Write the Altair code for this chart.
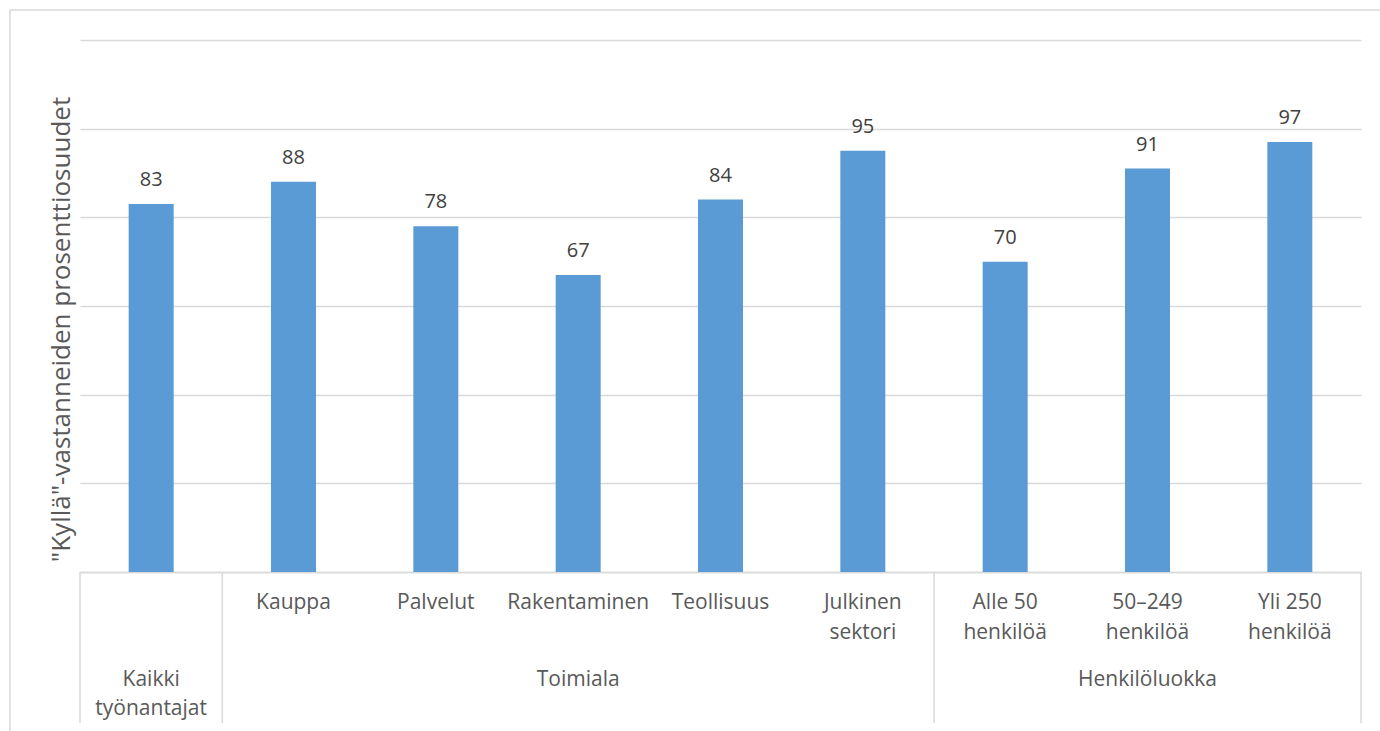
import altair as alt
import pandas as pd

# Categories (in plot order) and the share of "Kyllä" answers, %
categories = ["Kaikki työnantajat", "Kauppa", "Palvelut", "Rakentaminen", "Teollisuus",
              "Julkinen sektori", "Alle 50 henkilöä", "50–249 henkilöä", "Yli 250 henkilöä"]
values = [83, 88, 78, 67, 84, 95, 70, 91, 97]

# Two-row category labels under the axis
label_line1 = ["", "Kauppa", "Palvelut", "Rakentaminen", "Teollisuus", "Julkinen",
               "Alle 50", "50–249", "Yli 250"]
label_line2 = ["", "", "", "", "", "sektori", "henkilöä", "henkilöä", "henkilöä"]

# Group labels, centred on the middle category of each group
group_line1 = ["Kaikki", "Toimiala", "Henkilöluokka"]
group_line2 = ["työnantajat", "", ""]
group_center = [0, 3, 7]

# Group boundaries in category units
separators = [-0.5, 0.5, 5.5, 8.5]

FONT = "Open Sans"
GRID = "#d9d9d9"
W, H = 1281, 532

bars_df = pd.DataFrame({"idx": list(range(len(categories))), "kategoria": categories,
                        "arvo": values})
lab1_df = pd.DataFrame({"idx": list(range(len(categories))), "t": label_line1})
lab2_df = pd.DataFrame({"idx": list(range(len(categories))), "t": label_line2})
grp1_df = pd.DataFrame({"idx": group_center, "t": group_line1})
grp2_df = pd.DataFrame({"idx": group_center, "t": group_line2})
sep_df = pd.DataFrame({"idx": separators})

x_scale = alt.Scale(domain=[-0.5, 8.5], nice=False, zero=False, padding=0)
y_scale = alt.Scale(domain=[0, 120], nice=False)

x_enc = alt.X("idx:Q", scale=x_scale,
              axis=alt.Axis(labels=False, ticks=False, grid=False, domain=True,
                            domainColor=GRID, domainWidth=1.5, title=None))

bars = alt.Chart(bars_df).mark_bar(size=45, color="#5b9bd5").encode(
    x=x_enc,
    y=alt.Y("arvo:Q", scale=y_scale,
            axis=alt.Axis(values=list(range(0, 121, 20)), labels=False, ticks=False,
                          domain=False, grid=True, gridColor=GRID, gridWidth=1.5,
                          title='"Kyllä"-vastanneiden prosenttiosuudet',
                          titleFont=FONT, titleFontSize=26, titleFontWeight="normal",
                          titleColor="#595959", titleX=-6, titleY=289,
                          titleAngle=-90, titleBaseline="bottom")),
    tooltip=["kategoria:N", "arvo:Q"],
)

value_labels = alt.Chart(bars_df).mark_text(
    font=FONT, fontSize=20, color="#404040", baseline="alphabetic", dy=-18
).encode(x=alt.X("idx:Q", scale=x_scale), y=alt.Y("arvo:Q", scale=y_scale),
         text="arvo:Q")


def text_row(df, y_px):
    return alt.Chart(df).mark_text(
        font=FONT, fontSize=21, color="#595959", baseline="middle"
    ).encode(x=alt.X("idx:Q", scale=x_scale), y=alt.value(y_px), text="t:N")


row1 = text_row(lab1_df, 563)
row2 = text_row(lab2_df, 593)
grp1 = text_row(grp1_df, 640)
grp2 = text_row(grp2_df, 669)

seps = alt.Chart(sep_df).mark_rule(color=GRID, strokeWidth=1.5).encode(
    x=alt.X("idx:Q", scale=x_scale), y=alt.value(H), y2=alt.value(683)
)

# Light frame around the whole chart
frame = alt.Chart(pd.DataFrame({"k": [0]})).mark_rect(
    fill=None, stroke=GRID, strokeWidth=1.5
).encode(x=alt.value(-70), x2=alt.value(1340), y=alt.value(-30), y2=alt.value(740))

chart = alt.layer(frame, bars, value_labels, row1, row2, grp1, grp2, seps).properties(
    width=W, height=H,
    padding={"left": 80, "top": 40, "right": 19, "bottom": 159},
    autosize=alt.AutoSizeParams(type="none"),
    background="white",
).configure_view(strokeWidth=0)

chart.save("out.html", embed_options={"renderer": "svg", "actions": False})
